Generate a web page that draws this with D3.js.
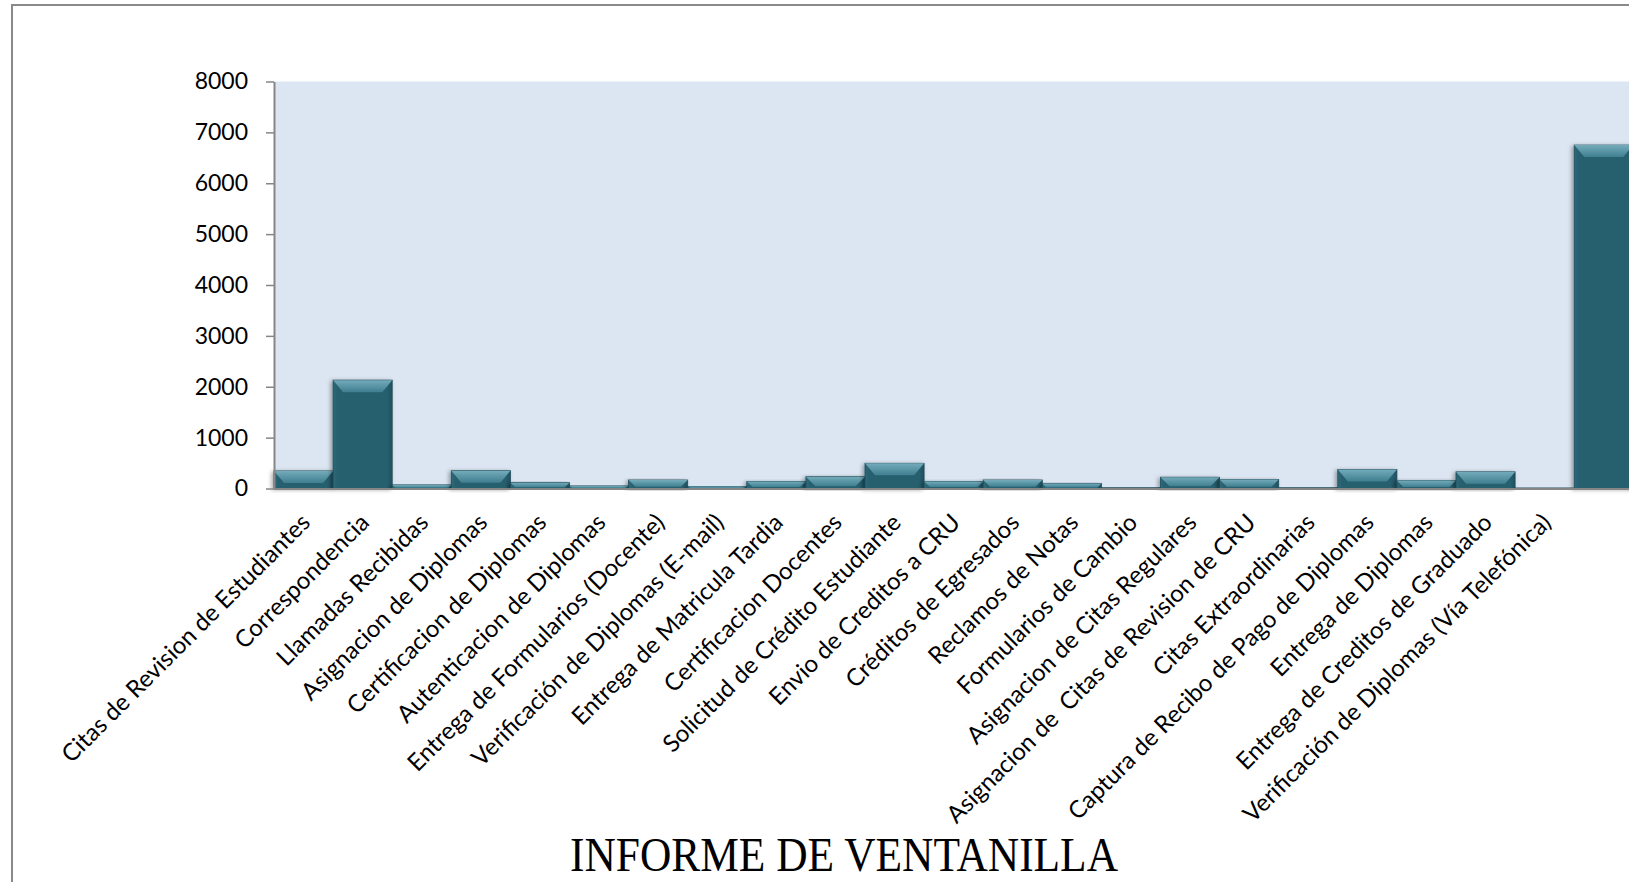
<!DOCTYPE html>
<html>
<head>
<meta charset="utf-8">
<script src="https://cdn.jsdelivr.net/npm/d3@7"></script>
<style>
  body { margin: 0; background: #fff; }
  svg { display: block; }
  text { white-space: pre; }
</style>
</head>
<body>
<svg id="chart" width="1629" height="882"></svg>
<script>
// datos del informe
var categories = [
    "Citas de Revision de Estudiantes",
    "Correspondencia",
    "Llamadas Recibidas",
    "Asignacion de Diplomas",
    "Certificacion de Diplomas",
    "Autenticacion de Diplomas",
    "Entrega de Formularios (Docente)",
    "Verificación de Diplomas (E-mail)",
    "Entrega de Matricula Tardia",
    "Certificacion Docentes",
    "Solicitud de Crédito Estudiante",
    "Envio de Creditos a CRU",
    "Créditos de Egresados",
    "Reclamos de Notas",
    "Formularios de Cambio",
    "Asignacion de Citas Regulares",
    "Asignacion de  Citas de Revision de CRU",
    "Citas Extraordinarias",
    "Captura de Recibo de Pago de Diplomas",
    "Entrega de Diplomas",
    "Entrega de Creditos de Graduado",
    "Verificación de Diplomas (Vía Telefónica)",
    ""
]
var values = [345, 2130, 70, 350, 115, 50, 167, 40, 140, 232, 495, 140, 167, 100, 15, 222, 177, 15, 375, 157, 328, 10, 6750]
var yTicks = [0, 1000, 2000, 3000, 4000, 5000, 6000, 7000, 8000]
var title = "INFORME DE VENTANILLA"

var svg = d3.select('#chart')
var width = 1629, height = 882
var margin = ({top: 81.5, left: 274, zero: 488.5})
var slot = 59.1

var x = d3.scaleBand()
    .domain(d3.range(categories.length))
    .range([margin.left, margin.left + slot * categories.length])
    .padding(0)

var y = d3.scaleLinear()
    .domain([0, 8000])
    .range([margin.zero, margin.top])

var defs = svg.append('defs')
var bev = defs.append('linearGradient').attr('id', 'bevel').attr('x1', 0).attr('y1', 0).attr('x2', 0).attr('y2', 1)
bev.append('stop').attr('offset', '0%').attr('stop-color', '#74abba')
bev.append('stop').attr('offset', '100%').attr('stop-color', '#3f7f90')
var body = defs.append('linearGradient').attr('id', 'body').attr('x1', 0).attr('y1', 0).attr('x2', 1).attr('y2', 0)
body.append('stop').attr('offset', '0%').attr('stop-color', '#2f6a7a')
body.append('stop').attr('offset', '8%').attr('stop-color', '#265e6e')
body.append('stop').attr('offset', '92%').attr('stop-color', '#265e6e')
body.append('stop').attr('offset', '100%').attr('stop-color', '#1f5261')
var shadow = defs.append('filter').attr('id', 'shadow').attr('x', '-20%').attr('y', '-20%').attr('width', '140%').attr('height', '140%')
shadow.append('feDropShadow').attr('dx', -2).attr('dy', 1).attr('stdDeviation', 2)
    .attr('flood-color', '#000').attr('flood-opacity', 0.35)

// marco exterior
svg.append('rect')
    .attr('x', 12).attr('y', 5)
    .attr('width', width + 20).attr('height', height + 20)
    .attr('fill', 'none').attr('stroke', '#8a8a8a').attr('stroke-width', 2)

// area de trazado
svg.append('rect')
    .attr('x', margin.left).attr('y', y(8000))
    .attr('width', x.range()[1] - margin.left).attr('height', y(0) - y(8000))
    .attr('fill', '#dce6f2')

// barras
var bars = svg.append('g').selectAll('g')
    .data(values)
    .enter().append('g')
    .attr('filter', 'url(#shadow)')

bars.append('rect')
    .attr('x', (d, i) => x(i))
    .attr('y', d => y(d))
    .attr('width', x.bandwidth())
    .attr('height', d => y(0) - y(d))
    .attr('fill', 'url(#body)')
    .attr('stroke', '#1d4a57')
    .attr('stroke-width', 0.8)

bars.append('polygon')
    .attr('points', function(d, i) {
        var x0 = x(i), x1 = x(i) + x.bandwidth(), top = y(d)
        var h = y(0) - y(d)
        var b = Math.min(12, h * 0.8)
        var ins = Math.min(10, Math.max(b, 3))
        return [[x0, top], [x1, top], [x1 - ins, top + b], [x0 + ins, top + b]].map(p => p.join(',')).join(' ')
    })
    .attr('fill', 'url(#bevel)')
    .attr('opacity', d => (y(0) - y(d)) < 1 ? 0 : 1)

// eje x
svg.append('line')
    .attr('x1', margin.left).attr('x2', width)
    .attr('y1', y(0) + 0.5).attr('y2', y(0) + 0.5)
    .attr('stroke', '#868686').attr('stroke-width', 2)

// eje y
var yAxis = svg.append('g')
    .attr('transform', `translate(${margin.left},0)`)
    .call(d3.axisLeft(y).tickValues(yTicks).tickFormat(d3.format('d')).tickSize(8).tickSizeOuter(0).tickPadding(18))
yAxis.select('.domain').attr('stroke', '#868686').attr('stroke-width', 2)
yAxis.selectAll('.tick line').attr('stroke', '#868686').attr('stroke-width', 1.5)
yAxis.selectAll('.tick text')
    .attr('font-family', 'Lato, sans-serif')
    .attr('font-size', '23px')
    .attr('fill', '#000')

// etiquetas de categorias
svg.append('g').selectAll('text')
    .data(categories)
    .enter().append('text')
    .attr('transform', (d, i) => `translate(${x(i) + x.bandwidth() / 2 + 8},${524}) rotate(-45)`)
    .attr('text-anchor', 'end')
    .attr('font-family', 'Lato, sans-serif')
    .attr('font-size', '24px')
    .attr('fill', '#000')
    .text(d => d)

// titulo
svg.append('text')
    .attr('x', 844)
    .attr('y', 871)
    .attr('text-anchor', 'middle')
    .attr('font-family', '"Liberation Serif", serif')
    .attr('font-size', '48px')
    .attr('textLength', 548)
    .attr('lengthAdjust', 'spacingAndGlyphs')
    .attr('fill', '#000')
    .text(title)
</script>
</body>
</html>
